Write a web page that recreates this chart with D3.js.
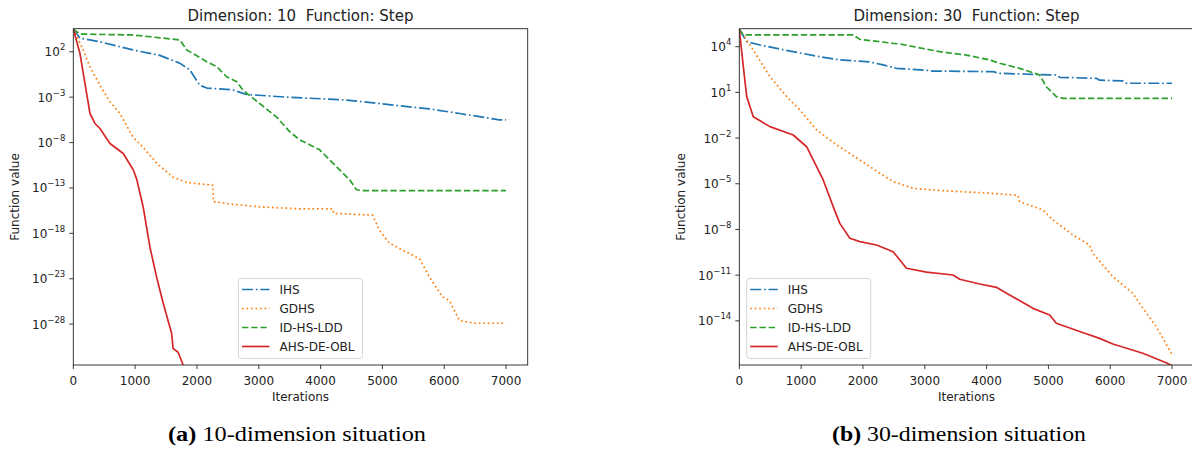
<!DOCTYPE html>
<html>
<head>
<meta charset="utf-8">
<script src="https://cdn.jsdelivr.net/npm/d3@7"></script>
<style>
  body { margin: 0; background: #fff; }
  svg { display: block; }
  text { font-family: "DejaVu Sans", sans-serif; fill: #222; }
</style>
</head>
<body>
<svg id="chart" width="1192" height="452"></svg>
<script>
// series, colours, tick values
var seriesNames = ["IHS", "GDHS", "ID-HS-LDD", "AHS-DE-OBL"];
var seriesColors = ["#1f77b4", "#ff7f0e", "#2ca02c", "#d62728"];
var xTicks = [0, 1000, 2000, 3000, 4000, 5000, 6000, 7000];
var yTicks10 = [2, -3, -8, -13, -18, -23, -28];   // exponents of 10
var yTicks30 = [4, 1, -2, -5, -8, -11, -14];

// dimension 10 : iterations / log10(function value)
var ihs10Iter = [0, 108, 431, 965, 1400, 1720, 1885, 2046, 2160, 2580, 2800, 3450, 4390, 4950, 5760, 6250, 6890, 7000];
var ihs10Log  = [4.5, 3.5, 3.1, 2.2, 1.6, 0.75, 0.0, -1.7, -2.0, -2.2, -2.7, -3.0, -3.3, -3.7, -4.3, -4.8, -5.5, -5.5];
var gdhs10Iter = [0, 136, 270, 431, 593, 754, 965, 1126, 1352, 1610, 1836, 2257, 2265, 2580, 3065, 3662, 4200, 4215, 4840, 4955, 5116, 5230, 5600, 5760, 5970, 6085, 6245, 6515, 7000];
var gdhs10Log  = [4.5, 2.55, 0.35, -1.7, -3.5, -4.8, -7.4, -8.5, -10.3, -11.8, -12.4, -12.7, -14.5, -14.8, -15.1, -15.3, -15.3, -15.8, -16.0, -17.7, -19.1, -19.5, -20.8, -22.8, -25.0, -25.4, -27.6, -27.9, -27.9];
var ldd10Iter = [0, 108, 965, 1725, 1836, 2160, 2320, 2480, 2645, 2740, 3015, 3290, 3500, 3662, 3985, 4470, 4580, 4680, 7000];
var ldd10Log  = [4.5, 3.95, 3.85, 3.3, 2.2, 0.9, 0.35, -0.75, -1.3, -2.2, -3.7, -5.2, -6.8, -7.7, -8.8, -12.1, -13.2, -13.3, -13.3];
var obl10Iter = [0, 108, 189, 270, 350, 431, 593, 808, 969, 1024, 1105, 1131, 1239, 1347, 1454, 1590, 1615, 1696, 1777, 1850];
var obl10Log  = [4.5, 1.8, -1.5, -4.8, -5.9, -6.45, -8.1, -9.2, -11.0, -12.0, -14.35, -15.1, -19.5, -22.8, -25.7, -29.0, -30.7, -31.1, -32.5, -34.0];

// dimension 30 : iterations / log10(function value)
var ihs30Iter = [0, 120, 334, 872, 1303, 1626, 2111, 2326, 2543, 3027, 3134, 4103, 4212, 5128, 5181, 5774, 5828, 6204, 6259, 7000];
var ihs30Log  = [5.14, 4.33, 4.11, 3.67, 3.34, 3.13, 3.0, 2.8, 2.58, 2.45, 2.4, 2.36, 2.25, 2.14, 1.99, 1.92, 1.8, 1.75, 1.6, 1.6];
var gdhs30Iter = [0, 226, 496, 766, 981, 1250, 1574, 1950, 2273, 2488, 2811, 3134, 3565, 3942, 4507, 4535, 4911, 5073, 5396, 5665, 5719, 6042, 6365, 6473, 6743, 7000];
var gdhs30Log  = [5.14, 3.78, 2.03, 0.72, -0.16, -1.47, -2.45, -3.44, -4.31, -4.86, -5.3, -5.41, -5.52, -5.59, -5.76, -6.18, -6.72, -7.38, -8.36, -9.02, -9.57, -11.1, -12.19, -12.85, -14.38, -16.2];
var ldd30Iter = [0, 65, 1842, 1950, 2488, 2596, 3242, 3673, 4049, 4212, 4535, 4858, 4966, 5128, 5234, 7000];
var ldd30Log  = [5.14, 4.77, 4.77, 4.48, 4.22, 4.18, 3.67, 3.45, 3.13, 2.91, 2.58, 2.14, 1.37, 0.72, 0.61, 0.61];
var obl30Iter = [0, 65, 120, 226, 496, 872, 1089, 1250, 1357, 1519, 1626, 1788, 1950, 2220, 2488, 2704, 3027, 3457, 3565, 3888, 4158, 4373, 4750, 5020, 5128, 5505, 5828, 6042, 6527, 6905, 7000];
var obl30Log  = [5.14, 2.69, 0.72, -0.6, -1.25, -1.8, -2.57, -3.88, -4.75, -6.5, -7.6, -8.58, -8.8, -9.02, -9.46, -10.55, -10.8, -10.99, -11.27, -11.58, -11.8, -12.3, -13.18, -13.62, -14.16, -14.7, -15.15, -15.52, -16.13, -16.75, -16.95];

var svg = d3.select("#chart");

var LW = 1.7;
var dashes = ["11,2.8,1.7,2.8", "1.7,2.8", "6.4,2.8", null];

function drawPanel(p) {
  var x = d3.scaleLinear().domain([0, 7350]).range([p.left, p.left + 454.4]);
  var y = d3.scaleLog().domain([Math.pow(10, p.yMin), Math.pow(10, p.yMax)]).range([365, 28.7]);

  var g = svg.append("g");
  var clipId = "clip" + p.id;
  g.append("clipPath").attr("id", clipId)
    .append("rect")
    .attr("x", x.range()[0]).attr("y", 28.7)
    .attr("width", x.range()[1] - x.range()[0]).attr("height", 365 - 28.7);

  // lines
  var line = d3.line()
    .x(function(d) { return x(d[0]); })
    .y(function(d) { return y(d[1]); });

  p.series.forEach(function(s, i) {
    var pts = s.iter.map(function(v, k) { return [v, Math.pow(10, s.log[k])]; });
    var path = g.append("path")
      .attr("clip-path", "url(#" + clipId + ")")
      .attr("d", line(pts))
      .attr("fill", "none")
      .attr("stroke", seriesColors[i])
      .attr("stroke-width", LW)
      .attr("stroke-linejoin", "round");
    if (dashes[i]) path.attr("stroke-dasharray", dashes[i]);
  });

  // frame
  var x0 = x.range()[0], x1 = x.range()[1];
  g.append("rect")
    .attr("x", x0).attr("y", 28.7)
    .attr("width", x1 - x0).attr("height", 365 - 28.7)
    .attr("fill", "none").attr("stroke", "#222").attr("stroke-width", 0.9);

  // x ticks
  xTicks.forEach(function(t) {
    var px = x(t);
    g.append("line").attr("x1", px).attr("x2", px).attr("y1", 365).attr("y2", 369)
      .attr("stroke", "#222").attr("stroke-width", 0.9);
    g.append("text").attr("x", px).attr("y", 385)
      .attr("text-anchor", "middle").style("font-size", "12px").text(t);
  });
  g.append("text").attr("x", (x0 + x1) / 2).attr("y", 401)
    .attr("text-anchor", "middle").style("font-size", "12px").text("Iterations");

  // y ticks
  p.yTicks.forEach(function(e) {
    var py = y(Math.pow(10, e));
    g.append("line").attr("x1", x0 - 4).attr("x2", x0).attr("y1", py).attr("y2", py)
      .attr("stroke", "#222").attr("stroke-width", 0.9);
    var t = g.append("text").attr("x", x0 - 8).attr("y", py + 4.5)
      .attr("text-anchor", "end").style("font-size", "12px");
    t.append("tspan").text("10");
    t.append("tspan").attr("dy", -6).style("font-size", "8.5px")
      .text(String(e).replace("-", "\u2212"));
  });
  g.append("text")
    .attr("transform", "translate(" + p.yLabelX + "," + 197 + ") rotate(-90)")
    .attr("text-anchor", "middle").style("font-size", "12px").text("Function value");

  // title
  g.append("text").attr("x", (x0 + x1) / 2).attr("y", 21)
    .attr("text-anchor", "middle").style("font-size", "15px")
    .style("white-space", "pre")
    .text(p.title);

  // legend
  var lg = g.append("g").attr("transform", "translate(" + p.legendX + "," + 278.5 + ")");
  lg.append("rect").attr("width", 124).attr("height", 80).attr("rx", 3)
    .attr("fill", "#fff").attr("fill-opacity", 0.8)
    .attr("stroke", "#d0d0d0").attr("stroke-width", 0.9);
  seriesNames.forEach(function(n, i) {
    var ry = 11 + i * 19;
    var l = lg.append("line").attr("x1", 3.5).attr("x2", 31).attr("y1", ry).attr("y2", ry)
      .attr("stroke", seriesColors[i]).attr("stroke-width", LW);
    if (dashes[i]) l.attr("stroke-dasharray", dashes[i]);
    lg.append("text").attr("x", 41).attr("y", ry + 4.5)
      .style("font-size", "12px").text(n);
  });

  // caption
  var c = svg.append("text").attr("x", p.captionX).attr("y", 441)
    .attr("text-anchor", "middle")
    .attr("textLength", p.captionLen).attr("lengthAdjust", "spacingAndGlyphs")
    .style("font-family", "'Liberation Serif', 'Times New Roman', serif")
    .style("font-size", "20px").style("fill", "#000");
  c.append("tspan").style("font-weight", "bold").text(p.captionTag);
  c.append("tspan").text(" " + p.caption);
}

drawPanel({
  id: "a", left: 73.3, yMin: -32.5, yMax: 4.54, yTicks: yTicks10, yLabelX: 19,
  title: "Dimension: 10  Function: Step", legendX: 238.5,
  series: [
    { iter: ihs10Iter, log: ihs10Log },
    { iter: gdhs10Iter, log: gdhs10Log },
    { iter: ldd10Iter, log: ldd10Log },
    { iter: obl10Iter, log: obl10Log }
  ],
  captionX: 297, captionLen: 258, captionTag: "(a)", caption: "10-dimension situation"
});

drawPanel({
  id: "b", left: 739.3, yMin: -16.9, yMax: 5.18, yTicks: yTicks30, yLabelX: 685,
  title: "Dimension: 30  Function: Step", legendX: 746.7,
  series: [
    { iter: ihs30Iter, log: ihs30Log },
    { iter: gdhs30Iter, log: gdhs30Log },
    { iter: ldd30Iter, log: ldd30Log },
    { iter: obl30Iter, log: obl30Log }
  ],
  captionX: 959, captionLen: 254, captionTag: "(b)", caption: "30-dimension situation"
});
</script>
</body>
</html>
